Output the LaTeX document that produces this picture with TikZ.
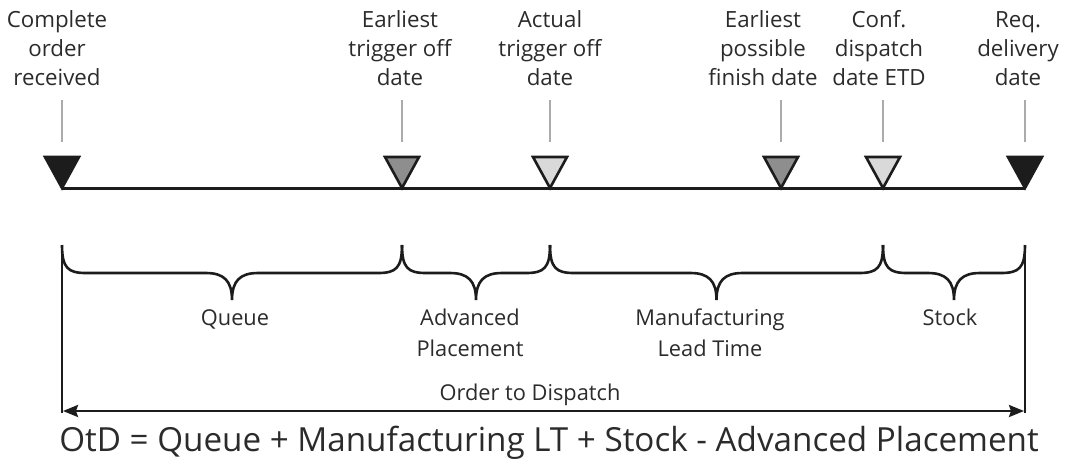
\documentclass[tikz,border=0pt]{standalone}
\usepackage{fontspec}
\setmainfont{Open Sans}
\usetikzlibrary{arrows.meta}

\definecolor{ink}{HTML}{1C1C1C}
\definecolor{txt}{HTML}{2B2B2B}
\definecolor{darkfill}{HTML}{8E8E8E}
\definecolor{lightfill}{HTML}{D9D9D9}
\definecolor{tick}{HTML}{ABABAB}

\tikzset{
  event/.style={align=center, inner sep=0pt, anchor=base, text=txt,
                font=\fontsize{22.3}{29}\selectfont},
  span/.style={align=center, inner sep=0pt, anchor=base, text=txt,
               font=\fontsize{21.8}{31}\selectfont},
  marker/.style={draw=ink, line width=2.6pt, line join=miter},
  ticker/.style={draw=tick, line width=2.6pt},
  bracket/.style={draw=ink, line width=2.6pt, line cap=butt},
  baseline line/.style={draw=ink, line width=3pt},
}

\begin{document}
\begin{tikzpicture}[x=1pt, y=-1pt]
\useasboundingbox (0,0) rectangle (1069,475);

% event points on the timeline
\coordinate (e1) at (62,188);
\coordinate (e2) at (402,188);
\coordinate (e3) at (550,188);
\coordinate (e4) at (781,188);
\coordinate (e5) at (883,188);
\coordinate (e6) at (1025,188);

% event labels (anchored on the baseline of their last line)
\node[event] (l1) at (57,85)   {Complete\\order\\received};
\node[event] (l2) at (400,85)  {Earliest\\trigger off\\date};
\node[event] (l3) at (550,85)  {Actual\\trigger off\\date};
\node[event] (l4) at (763,85)  {Earliest\\possible\\finish date};
\node[event] (l5) at (879,85)  {Conf.\\dispatch\\date ETD};
\node[event] (l6) at (1018,85) {Req.\\delivery\\date};

% grey ticks above each marker
\foreach \i in {1,...,6} {
  \coordinate (t\i a) at ([yshift=88pt]e\i);
  \coordinate (t\i b) at ([yshift=46pt]e\i);
  \draw[ticker] (t\i a) -- (t\i b);
}

% timeline
\draw[baseline line] (e1) -- (e6);

% markers
\foreach \i/\col in {1/ink, 2/darkfill, 3/lightfill, 4/darkfill, 5/lightfill, 6/ink} {
  \draw[marker, fill=\col] ([shift={(-17,-31)}]e\i) -- ([shift={(17,-31)}]e\i) -- (e\i) -- cycle;
}

% braces under the timeline
\foreach \a/\b in {62/402, 402/550, 550/883, 883/1025} {
  \pgfmathsetmacro{\m}{(\a+\b)/2}
  \draw[bracket] (\a,245) .. controls (\a,268) and (\a+6,273) .. (\a+24,273)
    -- (\m-26,273) .. controls (\m-8,273) and (\m,281) .. (\m,300)
    .. controls (\m,281) and (\m+8,273) .. (\m+26,273)
    -- (\b-24,273) .. controls (\b-6,273) and (\b,268) .. (\b,245);
}

% span labels
\node[span] (s1) at (235,325) {Queue};
\node[span] (s2) at (470,356) {Advanced\\Placement};
\node[span] (s3) at (710,356) {Manufacturing\\Lead Time};
\node[span] (s4) at (950,325) {Stock};

% order to dispatch
\coordinate (o1) at (62,245);
\coordinate (o2) at (1025,245);
\coordinate (o1b) at (62,413);
\coordinate (o2b) at (1025,413);
\coordinate (a1) at (63,411);
\coordinate (a2) at (1024,411);
\draw[bracket] (o1) -- (o1b);
\draw[bracket] (o2) -- (o2b);
\draw[draw=ink, line width=2.4pt, {Stealth[length=15pt,width=12pt,inset=2pt]}-{Stealth[length=15pt,width=12pt,inset=2pt]}] (a1) -- (a2);
\node[span] (od) at (530,400) {Order to Dispatch};

% formula
\node[inner sep=0pt, anchor=base, text=txt, font=\fontsize{33.2}{38}\selectfont] (f) at (549,451)
  {OtD = Queue + Manufacturing LT + Stock - Advanced Placement};
\end{tikzpicture}
\end{document}
